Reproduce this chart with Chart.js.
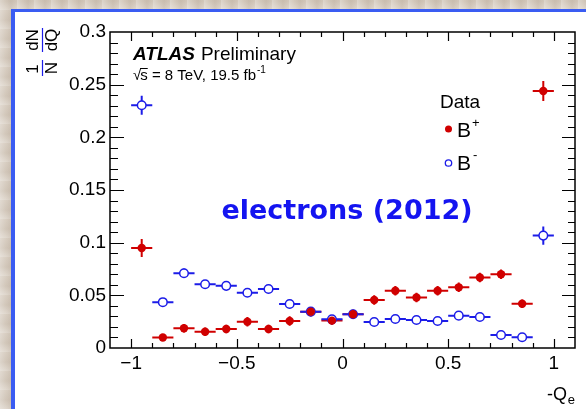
<!DOCTYPE html>
<html>
<head>
<meta charset="utf-8">
<script src="https://cdn.jsdelivr.net/npm/chart.js@4"></script>
<style>
  html, body { margin: 0; padding: 0; }
  body {
    width: 586px; height: 409px; overflow: hidden; position: relative;
    background: #d8cec2;
    background-image:
      repeating-linear-gradient(90deg, rgba(255,255,255,0.25) 0px, rgba(255,255,255,0) 6px, rgba(150,130,110,0.15) 11px, rgba(255,255,255,0) 17px),
      repeating-linear-gradient(0deg, rgba(255,255,255,0.2) 0px, rgba(160,140,120,0.12) 9px, rgba(255,255,255,0) 19px);
  }
  #panel {
    position: absolute; left: 11px; top: 9px; width: 575px; height: 400px;
    background: #fff; box-sizing: border-box;
    border-left: 4px solid #3a5cf2; border-top: 3px solid #3a5cf2;
  }
  #chart { position: absolute; left: 0; top: 0; }
</style>
</head>
<body>
<div id="panel"></div>
<canvas id="chart" width="586" height="409"></canvas>
<script>
// -Q_e bin centres (bin width 0.1)
var binCenters = [-0.95, -0.85, -0.75, -0.65, -0.55, -0.45, -0.35, -0.25, -0.15, -0.05,
                  0.05, 0.15, 0.25, 0.35, 0.45, 0.55, 0.65, 0.75, 0.85, 0.95];
var binHalfWidth = 0.05;

// B+ (filled red)
var bPlus = [0.095, 0.010, 0.0187, 0.0155, 0.018, 0.025, 0.018, 0.0256, 0.0345, 0.026,
             0.032, 0.0456, 0.0544, 0.048, 0.0544, 0.0576, 0.067, 0.070, 0.042, 0.244];
var bPlusErr = [0.0085, 0.003, 0.004, 0.004, 0.004, 0.0045, 0.004, 0.0045, 0.0045, 0.004,
                0.0045, 0.0045, 0.0045, 0.0045, 0.0045, 0.0045, 0.0045, 0.0045, 0.004, 0.0095];

// B- (open blue)
var bMinus = [0.2305, 0.0435, 0.071, 0.0605, 0.059, 0.0525, 0.056, 0.0418, 0.0345, 0.0272,
              0.032, 0.0247, 0.0275, 0.0266, 0.0256, 0.0307, 0.0294, 0.0123, 0.0102, 0.1067];
var bMinusErr = [0.009, 0.003, 0.0045, 0.004, 0.004, 0.004, 0.004, 0.004, 0.004, 0.003,
                 0.003, 0.003, 0.003, 0.003, 0.003, 0.003, 0.003, 0.003, 0.003, 0.0087];

var xTickVals = [-1, -0.5, 0, 0.5, 1];
var yTickVals = [0, 0.05, 0.1, 0.15, 0.2, 0.25, 0.3];

var red = '#d00000';
var blue = '#1c1ce8';
var font = '"Liberation Sans", Arial, Helvetica, sans-serif';

function toPoints(vals) {
  return binCenters.map(function (c, i) { return { x: c, y: vals[i] }; });
}

function fmt(v) {
  var s = String(Math.round(v * 1000) / 1000);
  return s.replace('-', '\u2212');
}

// horizontal (bin width) and vertical (stat.) error bars
var errorBars = {
  id: 'errorBars',
  beforeDatasetsDraw: function (chart) {
    var ctx = chart.ctx, xs = chart.scales.x, ys = chart.scales.y;
    chart.data.datasets.forEach(function (ds) {
      ctx.save();
      ctx.strokeStyle = ds.borderColor;
      ctx.lineWidth = 2;
      ds.data.forEach(function (p, i) {
        var px = xs.getPixelForValue(p.x), py = ys.getPixelForValue(p.y);
        ctx.beginPath();
        ctx.moveTo(xs.getPixelForValue(p.x - binHalfWidth), py);
        ctx.lineTo(xs.getPixelForValue(p.x + binHalfWidth), py);
        ctx.moveTo(px, ys.getPixelForValue(p.y - ds.yErr[i]));
        ctx.lineTo(px, ys.getPixelForValue(p.y + ds.yErr[i]));
        ctx.stroke();
      });
      ctx.restore();
    });
  }
};

// frame, inward ticks and all the text around the plot
var decorations = {
  id: 'decorations',
  afterDraw: function (chart) {
    var ctx = chart.ctx, a = chart.chartArea, xs = chart.scales.x, ys = chart.scales.y;
    ctx.save();
    ctx.strokeStyle = '#000';
    ctx.lineWidth = 1.5;
    ctx.strokeRect(a.left, a.top, a.right - a.left, a.bottom - a.top);

    ctx.lineWidth = 1.2;
    ctx.beginPath();
    var i, v, px, major;
    for (i = -10; i <= 10; i++) {
      v = i / 10;
      px = Math.round(xs.getPixelForValue(v)) + 0.5;
      major = (i % 5 === 0);
      var lx = major ? 9 : 5;
      ctx.moveTo(px, a.bottom); ctx.lineTo(px, a.bottom - lx);
      ctx.moveTo(px, a.top); ctx.lineTo(px, a.top + lx);
    }
    for (i = 1; i < 30; i++) {
      v = i / 100;
      var py = Math.round(ys.getPixelForValue(v)) + 0.5;
      major = (i % 5 === 0);
      ctx.moveTo(a.left, py); ctx.lineTo(a.left + (major ? 14 : 8), py);
      ctx.moveTo(a.right, py); ctx.lineTo(a.right - (major ? 13 : 7), py);
    }
    ctx.stroke();

    ctx.fillStyle = '#000';
    ctx.textBaseline = 'alphabetic';
    ctx.textAlign = 'left';

    // ATLAS Preliminary
    ctx.font = 'italic bold 19px ' + font;
    ctx.fillText('ATLAS', 133, 60);
    var w = ctx.measureText('ATLAS').width;
    ctx.font = '19px ' + font;
    ctx.fillText('Preliminary', 133 + w + 6, 60);

    // sqrt(s) line
    ctx.font = '15px ' + font;
    ctx.fillText('\u221A', 133, 80);
    var sx = 133 + ctx.measureText('\u221A').width;
    ctx.fillText('s', sx - 1, 80);
    var sw = ctx.measureText('s').width;
    ctx.lineWidth = 1;
    ctx.beginPath();
    ctx.moveTo(sx - 1, 68.5); ctx.lineTo(sx + sw - 1, 68.5);
    ctx.stroke();
    var rest = ' = 8 TeV, 19.5 fb';
    ctx.fillText(rest, sx + sw - 1, 80);
    var rx = sx + sw - 1 + ctx.measureText(rest).width;
    ctx.font = '10px ' + font;
    ctx.fillText('-1', rx + 1, 73);

    // legend
    ctx.font = '19px ' + font;
    ctx.fillText('Data', 440, 108);
    ctx.font = '21px ' + font;
    ctx.fillText('B', 457, 137);
    ctx.fillText('B', 457, 170);
    ctx.font = '13px ' + font;
    ctx.fillText('+', 472, 127);
    ctx.fillText('-', 473, 159);
    ctx.fillStyle = red;
    ctx.beginPath(); ctx.arc(448.5, 129, 3.5, 0, Math.PI * 2); ctx.fill();
    ctx.strokeStyle = blue; ctx.lineWidth = 1.3;
    ctx.fillStyle = '#fff';
    ctx.beginPath(); ctx.arc(448.5, 163, 3.2, 0, Math.PI * 2); ctx.fill(); ctx.stroke();

    // channel label
    ctx.fillStyle = '#1414f0';
    ctx.font = 'bold 27px "Comic Sans MS", "DejaVu Sans", sans-serif';
    ctx.textAlign = 'center';
    ctx.textBaseline = 'middle';
    ctx.fillText('electrons (2012)', 347, 212);

    // x axis title
    ctx.fillStyle = '#000';
    ctx.textBaseline = 'alphabetic';
    ctx.textAlign = 'right';
    ctx.font = '13px ' + font;
    ctx.fillText('e', 575, 404);
    ctx.font = '18px ' + font;
    ctx.fillText('-Q', 567, 400);

    // y axis title, 1/N dN/dQ rotated
    ctx.translate(42, 77);
    ctx.rotate(-Math.PI / 2);
    ctx.font = '17px ' + font;
    ctx.textAlign = 'center';
    ctx.fillText('1', 8, -4);
    ctx.fillText('N', 9, 15);
    ctx.fillText('dN', 37, -4);
    ctx.fillText('dQ', 37, 15);
    ctx.lineWidth = 1.2;
    ctx.beginPath();
    ctx.moveTo(1, 0.5); ctx.lineTo(17, 0.5);
    ctx.moveTo(25, 0.5); ctx.lineTo(49, 0.5);
    ctx.stroke();
    ctx.restore();
  }
};

new Chart(document.getElementById('chart').getContext('2d'), {
  type: 'scatter',
  data: {
    datasets: [{
      label: 'B+',
      data: toPoints(bPlus),
      yErr: bPlusErr,
      borderColor: red,
      backgroundColor: red,
      pointRadius: 4.2,
      pointBorderWidth: 0,
      pointHoverRadius: 4.2
    }, {
      label: 'B-',
      data: toPoints(bMinus),
      yErr: bMinusErr,
      borderColor: blue,
      backgroundColor: '#fff',
      pointRadius: 4.3,
      pointBorderWidth: 1.5,
      pointHoverRadius: 4.3
    }]
  },
  options: {
    responsive: false,
    animation: false,
    devicePixelRatio: 1,
    layout: { padding: { left: 0, top: 32, right: 11, bottom: 0 } },
    plugins: {
      legend: { display: false },
      tooltip: { enabled: false }
    },
    scales: {
      x: {
        type: 'linear',
        min: -1.1,
        max: 1.1,
        afterBuildTicks: function (s) { s.ticks = xTickVals.map(function (v) { return { value: v }; }); },
        afterFit: function (s) { s.height = 61; },
        grid: { display: false, drawTicks: false },
        border: { display: false },
        ticks: {
          padding: 4,
          color: '#000',
          font: { family: font, size: 19 },
          maxRotation: 0,
          callback: function (v) { return fmt(v); }
        }
      },
      y: {
        type: 'linear',
        min: 0,
        max: 0.3,
        afterBuildTicks: function (s) { s.ticks = yTickVals.map(function (v) { return { value: v }; }); },
        afterFit: function (s) { s.width = 110; },
        grid: { display: false, drawTicks: false },
        border: { display: false },
        ticks: {
          padding: 4,
          color: '#000',
          font: { family: font, size: 19 },
          callback: function (v) { return fmt(v); }
        }
      }
    }
  },
  plugins: [errorBars, decorations]
});
</script>
</body>
</html>
